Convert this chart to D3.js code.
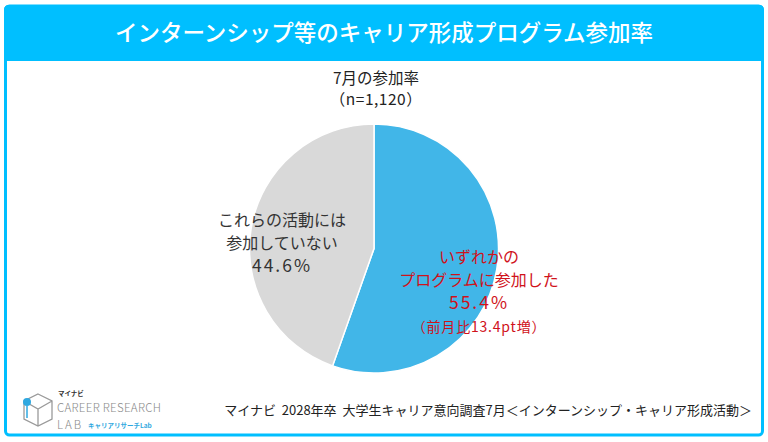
<!DOCTYPE html>
<html>
<head>
<meta charset="utf-8">
<script src="https://cdn.jsdelivr.net/npm/d3@7"></script>
<style>
body { margin: 0; background: #fff; }
svg text { font-family: "Noto Sans CJK JP", "Noto Sans", sans-serif; }
</style>
</head>
<body>
<div class="graphic"></div>
<script>
// data
var categories = ["いずれかのプログラムに参加した", "これらの活動には参加していない"]
var shares = [55.4, 44.6]
var colors = ["#41B6E8", "#D9D9D9"]
var sliceLabels = [
  ["いずれかの", "プログラムに参加した", "55.4%"],
  ["これらの活動には", "参加していない", "44.6%"]
]
var titleText = "インターンシップ等のキャリア形成プログラム参加率"
var subTitle = ["7月の参加率", "（n=1,120）"]
var changeNote = "（前月比13.4pt増）"
var sourceText = "マイナビ  2028年卒  大学生キャリア意向調査7月＜インターンシップ・キャリア形成活動＞"

var svg_width = 768, svg_height = 442

var svg = d3.select(".graphic")
  .append("svg")
  .attr("width", svg_width)
  .attr("height", svg_height)

var cyan = "#00BFFF"

// frame + title bar
svg.append("rect")
  .attr("x", 5.5).attr("y", 6).attr("width", 757).attr("height", 429)
  .attr("rx", 4)
  .attr("fill", "#fff").attr("stroke", cyan).attr("stroke-width", 3)
svg.append("path")
  .attr("d", "M4,61 L4,10 Q4,5 9,5 L759,5 Q764,5 764,10 L764,61 Z")
  .attr("fill", cyan)

svg.append("text")
  .attr("x", 384).attr("y", 41)
  .attr("text-anchor", "middle")
  .attr("fill", "#fff")
  .attr("font-size", "22.5px")
  .attr("font-weight", "500")
  .text(titleText)

svg.selectAll(".sub")
  .data(subTitle)
  .enter()
  .append("text")
  .attr("class", "sub")
  .attr("x", 376)
  .attr("y", function(d, i){ return 84 + i * 21 })
  .attr("text-anchor", "middle")
  .attr("font-size", "15.5px")
  .attr("font-weight", "400")
  .attr("letter-spacing", function(d, i){ return i ? "0.5px" : "0px" })
  .attr("fill", "#222")
  .text(function(d){ return d })

// pie
var cx = 374, cy = 248.5, radius = 124.5

var pie = d3.pie().sort(null).value(function(d){ return d })
var arc = d3.arc().innerRadius(0).outerRadius(radius)

var g = svg.append("g").attr("transform", "translate(" + cx + "," + cy + ")")
g.selectAll("path")
  .data(pie(shares))
  .enter()
  .append("path")
  .attr("d", arc)
  .attr("fill", function(d, i){ return colors[i] })
  .attr("stroke", "#fff")
  .attr("stroke-width", 1.5)

// labels
var labelPos = [{x: 479, y: 263, color: "#D0121B"}, {x: 282, y: 226, color: "#333"}]

sliceLabels.forEach(function(lines, k){
  svg.append("g")
    .selectAll("text")
    .data(lines)
    .enter()
    .append("text")
    .attr("x", labelPos[k].x)
    .attr("y", function(d, i){ return labelPos[k].y + i * 23 })
    .attr("text-anchor", "middle")
    .attr("font-size", function(d, i){ return i == 2 ? "17.5px" : "16px" })
    .attr("letter-spacing", function(d, i){ return i == 2 ? "2px" : "0px" })
    .attr("fill", labelPos[k].color)
    .text(function(d){ return d })
})

svg.append("text")
  .attr("x", 479).attr("y", 332)
  .attr("text-anchor", "middle")
  .attr("font-size", "14px")
  .attr("letter-spacing", "0.8px")
  .attr("fill", "#D0121B")
  .text(changeNote)

// source
svg.append("text")
  .attr("x", 752).attr("y", 415)
  .attr("text-anchor", "end")
  .attr("font-size", "13px")
  .attr("fill", "#222")
  .style("white-space", "pre")
  .text(sourceText)

// logo
var logo = svg.append("g")
logo.append("path")
  .attr("d", "M38,394 L52,401 L52,419 L38,426 L24,419 L24,401 Z M24,401 L38,409 L52,401 M38,409 L38,426")
  .attr("fill", "none").attr("stroke", "#9a9a9a").attr("stroke-width", 1.3)
logo.append("circle").attr("cx", 27).attr("cy", 402).attr("r", 4).attr("fill", "#2FA8E0")
logo.append("line").attr("x1", 27).attr("y1", 406).attr("x2", 27).attr("y2", 418)
  .attr("stroke", "#2FA8E0").attr("stroke-width", 1.5)
logo.append("text").attr("x", 58).attr("y", 396)
  .attr("font-size", "6.5px").attr("font-weight", "bold").attr("fill", "#333").text("マイナビ")
logo.append("text").attr("x", 57).attr("y", 412)
  .attr("font-family", "Roboto, sans-serif")
  .attr("font-size", "11.5px").attr("font-weight", "300").attr("fill", "#8a8a8a")
  .attr("letter-spacing", "0.3px")
  .text("CAREER RESEARCH")
logo.append("text").attr("x", 57).attr("y", 428.5)
  .attr("font-family", "Roboto, sans-serif")
  .attr("font-size", "11.5px").attr("font-weight", "300").attr("fill", "#8a8a8a")
  .attr("letter-spacing", "2px")
  .text("LAB")
logo.append("text").attr("x", 88).attr("y", 427.5)
  .attr("font-size", "6.5px").attr("font-weight", "bold").attr("fill", "#2FA8E0")
  .text("キャリアリサーチLab")
</script>
</body>
</html>
